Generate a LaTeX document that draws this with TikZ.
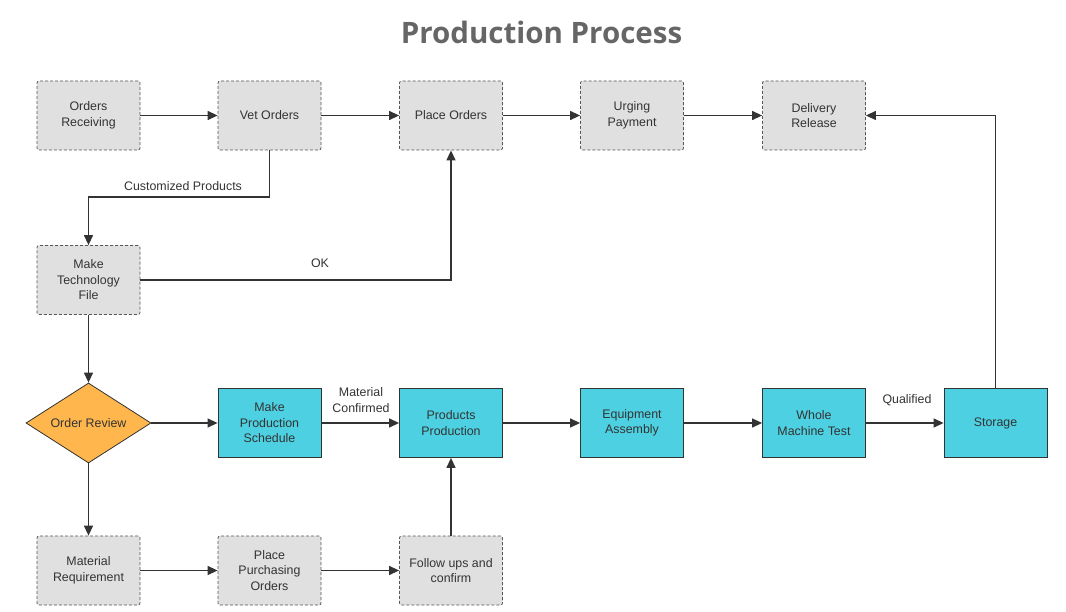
\documentclass[tikz,border=0pt]{standalone}
\usepackage{fontspec}
\setmainfont{Liberation Sans}
\newfontfamily\titlefont{Open Sans}
\usetikzlibrary{shapes.geometric,arrows.meta,positioning}
\definecolor{grayfill}{HTML}{E0E0E0}
\definecolor{grayline}{HTML}{555555}
\definecolor{cyanfill}{HTML}{4DD0E1}
\definecolor{orangefill}{HTML}{FFB74D}
\definecolor{linecol}{HTML}{333333}
\definecolor{textcol}{HTML}{333333}
\definecolor{titlecol}{HTML}{666666}
\tikzset{
  txt/.style={font=\fontsize{12.4}{15.5}\selectfont, text=textcol},
  dbox/.style={txt, draw=grayline, fill=grayfill, dashed, dash pattern=on 3pt off 2pt, rounded corners=2pt, line width=0.8pt,
    minimum width=103pt, minimum height=69pt, align=center, inner sep=2pt},
  cbox/.style={txt, draw=linecol, fill=cyanfill, line width=0.8pt,
    minimum width=103pt, minimum height=69pt, align=center, inner sep=2pt},
  dia/.style={txt, diamond, draw=linecol, fill=orangefill, line width=0.8pt, aspect=1.5625,
    minimum width=125pt, minimum height=80pt, inner sep=0pt},
  conn/.style={draw=linecol, line width=1.3pt, -{Triangle[length=10pt,width=9pt]}},
  lbl/.style={txt, align=center}
}
\begin{document}
\begin{tikzpicture}[x=1pt,y=-1pt]
\useasboundingbox (0,0) rectangle (1066,612);
\node[font=\titlefont\bfseries\fontsize{29.5}{34}\selectfont, text=titlecol] (title) at (541.5,32) {Production Process};
% top row
\node[dbox] (or) at (88.5,115.5) {Orders\\Receiving};
\node[dbox] (vo) at (269.5,115.5) {Vet Orders};
\node[dbox] (po) at (451,115.5) {Place Orders};
\node[dbox] (up) at (632,115.5) {Urging\\Payment};
\node[dbox] (dr) at (814,115.5) {Delivery\\Release};
% tech file
\node[dbox] (mtf) at (88.5,280) {Make\\Technology\\File};
% middle row
\node[dia] (rev) at (88.5,423) {Order Review};
\node[cbox] (mps) at (269.5,423) {Make\\Production\\Schedule};
\node[cbox] (pp) at (451,423) {Products\\Production};
\node[cbox] (ea) at (632,423) {Equipment\\Assembly};
\node[cbox] (wmt) at (814,423) {Whole\\Machine Test};
\node[cbox] (st) at (995.5,423) {Storage};
% bottom row
\node[dbox] (mr) at (88.5,570.5) {Material\\Requirement};
\node[dbox] (ppo) at (269.5,570.5) {Place\\Purchasing\\Orders};
\node[dbox] (fuc) at (451,570.5) {Follow ups and\\confirm};
% connectors
\draw[conn] (or) -- (vo);
\draw[conn] (vo) -- (po);
\draw[conn] (po) -- (up);
\draw[conn] (up) -- (dr);
\coordinate (c1) at (269.5,197);
\coordinate (c2) at (88.5,197);
\draw[conn] (vo.south) -- (c1) -- (c2) -- (mtf.north);
\node[lbl] (l1) at (183,186) {Customized Products};
\coordinate (c3) at (451,280);
\draw[conn] (mtf.east) -- (c3) -- (po.south);
\node[lbl] (l2) at (320,263) {OK};
\draw[conn] (mtf) -- (rev);
\draw[conn] (rev) -- (mps);
\draw[conn] (mps) -- (pp);
\node[lbl] (l3) at (361,400) {Material\\Confirmed};
\draw[conn] (pp) -- (ea);
\draw[conn] (ea) -- (wmt);
\draw[conn] (wmt) -- (st);
\node[lbl] (l4) at (907,400) {Qualified};
\coordinate (c4) at (995.5,115.5);
\draw[conn] (st.north) -- (c4) -- (dr.east);
\draw[conn] (rev) -- (mr);
\draw[conn] (mr) -- (ppo);
\draw[conn] (ppo) -- (fuc);
\draw[conn] (fuc) -- (pp);
\end{tikzpicture}
\end{document}
